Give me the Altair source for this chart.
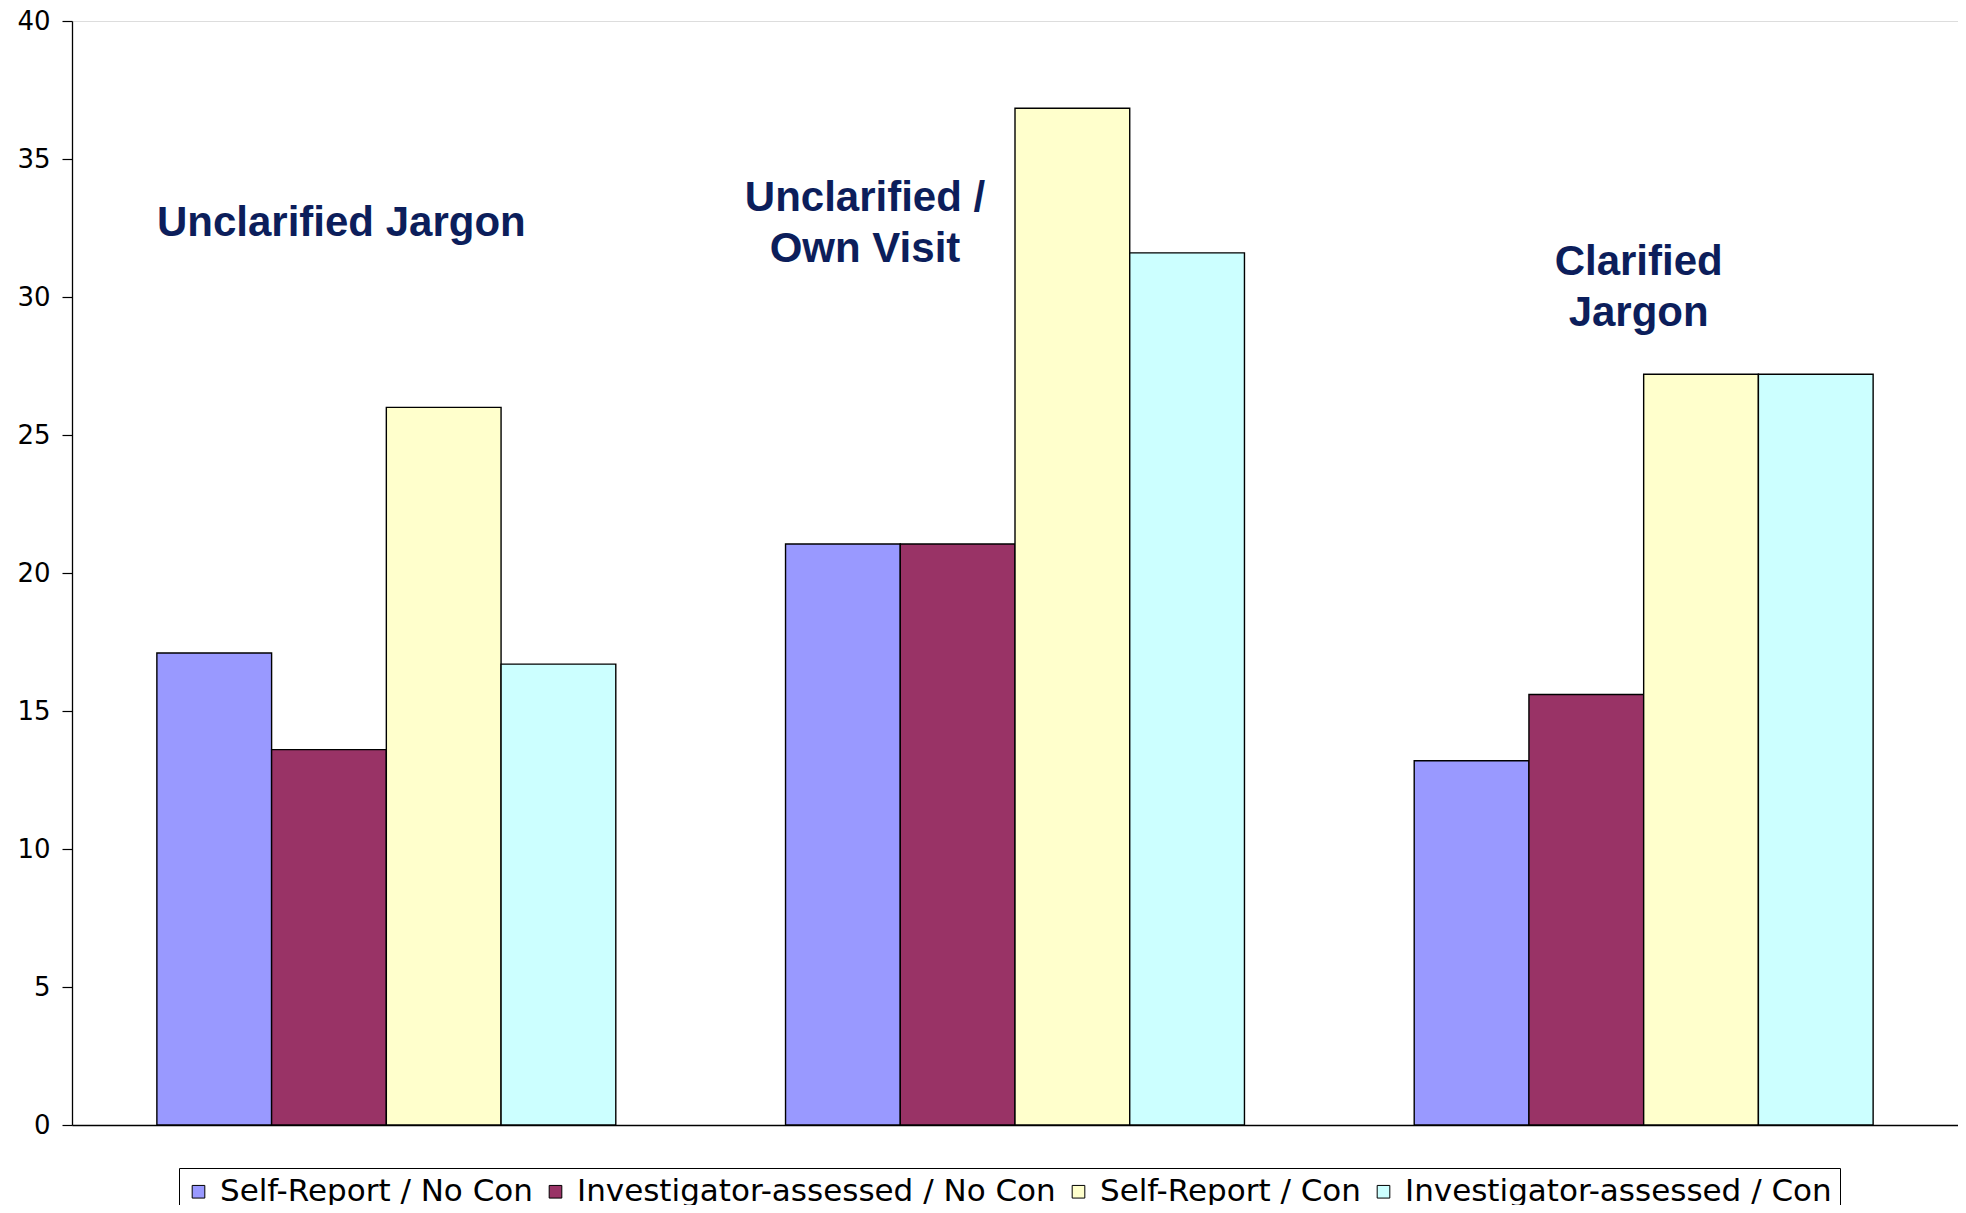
import altair as alt
import pandas as pd

# ---- data ----
groups = ["Unclarified Jargon", "Unclarified / Own Visit", "Clarified Jargon"]
series = [
    "Self-Report / No Con",
    "Investigator-assessed / No Con",
    "Self-Report / Con",
    "Investigator-assessed / Con",
]
self_report_no_con = [17.1, 21.05, 13.2]
investigator_no_con = [13.6, 21.05, 15.6]
self_report_con = [26.0, 36.84, 27.2]
investigator_con = [16.7, 31.6, 27.2]

y_ticks = [0, 5, 10, 15, 20, 25, 30, 35, 40]
colors = ["#9999FF", "#993366", "#FFFFCC", "#CCFFFF"]

rows = []
for s, vals in zip(series, [self_report_no_con, investigator_no_con,
                            self_report_con, investigator_con]):
    for g, v in zip(groups, vals):
        rows.append({"group": g, "series": s, "value": v})
df = pd.DataFrame(rows)

x_enc = alt.X("group:N", sort=groups,
              scale=alt.Scale(paddingInner=0.27, paddingOuter=0.135),
              axis=alt.Axis(labels=False, ticks=False, title=None,
                            domainColor="black", domainWidth=1.3))

bars = alt.Chart(df).mark_bar(stroke="black", strokeWidth=1.4).encode(
    x=x_enc,
    xOffset=alt.XOffset("series:N", sort=series,
                        scale=alt.Scale(paddingInner=0, paddingOuter=0)),
    y=alt.Y("value:Q", scale=alt.Scale(domain=[0, 40], nice=False),
            axis=alt.Axis(values=y_ticks, title=None, grid=False,
                          tickSize=10, tickColor="black", tickWidth=1.2,
                          domainColor="black", domainWidth=1.3,
                          labelFont="DejaVu Sans", labelFontSize=26,
                          labelColor="black", labelPadding=12)),
    color=alt.Color("series:N", sort=series,
                    scale=alt.Scale(domain=series, range=colors),
                    legend=alt.Legend(
                        title=None, orient="none", direction="horizontal",
                        legendX=107, legendY=1147,
                        strokeColor="black", padding=8,
                        symbolType="square", symbolSize=160,
                        symbolOffset=-4,
                        symbolStrokeColor="black", symbolStrokeWidth=1,
                        labelFont="DejaVu Sans", labelFontSize=31,
                        labelColor="black", labelOffset=6,
                        labelLimit=2000, columnPadding=11)),
)

ann_color = "#0C1E5B"


def annotation(group, text, yval, dx):
    d = pd.DataFrame({"group": [group], "label": [text]})
    return alt.Chart(d).mark_text(
        font="Liberation Sans", fontWeight="bold", fontSize=42,
        color=ann_color, lineBreak="\n", lineHeight=51,
        align="center", baseline="middle", dx=dx,
    ).encode(
        x=alt.X("group:N", sort=groups),
        y=alt.datum(yval),
        text="label:N",
    )


a1 = annotation(groups[0], "Unclarified Jargon", 32.67, -45)
a2 = annotation(groups[1], "Unclarified /\nOwn Visit", 33.57, -150)
a3 = annotation(groups[2], "Clarified\nJargon", 31.26, -5)

chart = alt.layer(bars, a1, a2, a3).properties(
    width=1886, height=1104,
    autosize=alt.AutoSizeParams(type="none"),
    padding={"left": 64, "top": 13, "right": 0, "bottom": 80},
).configure_view(stroke="black", strokeWidth=1.2).configure(background="white")

chart.save("out.html", embed_options={"renderer": "svg", "actions": False})
